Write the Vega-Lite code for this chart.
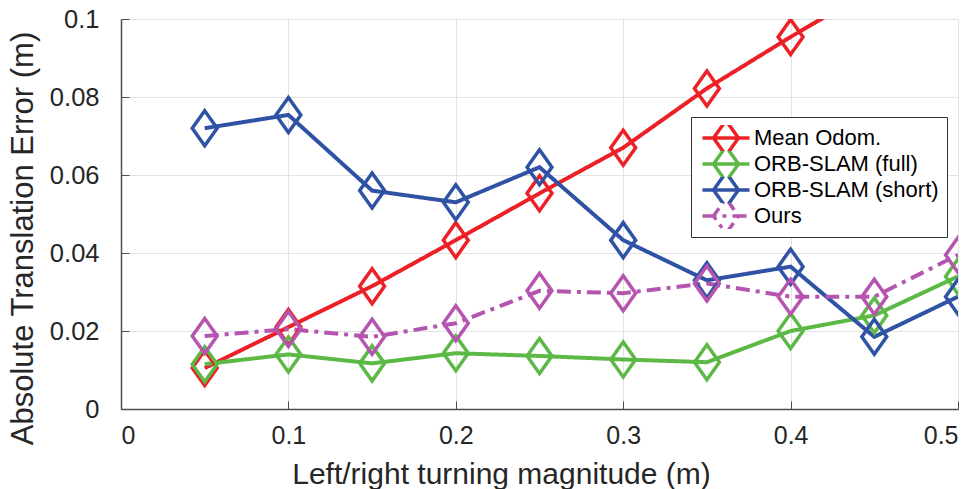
{
  "$schema": "https://vega.github.io/schema/vega-lite/v6.json",
  "width": 837,
  "height": 390,
  "autosize": {"type": "none"},
  "padding": {"left": 121, "top": 19, "right": 21, "bottom": 80},
  "background": "white",
  "config": {
    "view": {"stroke": null},
    "font": "Liberation Sans",
    "axis": {
      "labelFont": "Liberation Sans",
      "titleFont": "Liberation Sans",
      "labelColor": "#262626",
      "titleColor": "#262626",
      "titleFontWeight": "normal",
      "domainColor": "#4d4d4d",
      "domainWidth": 1.5,
      "tickColor": "#4d4d4d",
      "tickWidth": 1,
      "gridColor": "#e3e3e3",
      "gridWidth": 1
    }
  },
  "data": {
    "values": [
      {"series": "Mean Odom.", "x": 0.05, "y": 0.0105},
      {"series": "Mean Odom.", "x": 0.10, "y": 0.0210},
      {"series": "Mean Odom.", "x": 0.15, "y": 0.0315},
      {"series": "Mean Odom.", "x": 0.20, "y": 0.0433},
      {"series": "Mean Odom.", "x": 0.25, "y": 0.0553},
      {"series": "Mean Odom.", "x": 0.30, "y": 0.0670},
      {"series": "Mean Odom.", "x": 0.35, "y": 0.0822},
      {"series": "Mean Odom.", "x": 0.40, "y": 0.0954},
      {"series": "Mean Odom.", "x": 0.45, "y": 0.1080},
      {"series": "ORB-SLAM (full)", "x": 0.05, "y": 0.0115},
      {"series": "ORB-SLAM (full)", "x": 0.10, "y": 0.0140},
      {"series": "ORB-SLAM (full)", "x": 0.15, "y": 0.0117},
      {"series": "ORB-SLAM (full)", "x": 0.20, "y": 0.0143},
      {"series": "ORB-SLAM (full)", "x": 0.25, "y": 0.0136},
      {"series": "ORB-SLAM (full)", "x": 0.30, "y": 0.0127},
      {"series": "ORB-SLAM (full)", "x": 0.35, "y": 0.0120},
      {"series": "ORB-SLAM (full)", "x": 0.40, "y": 0.0200},
      {"series": "ORB-SLAM (full)", "x": 0.45, "y": 0.0240},
      {"series": "ORB-SLAM (full)", "x": 0.50, "y": 0.0340},
      {"series": "ORB-SLAM (short)", "x": 0.05, "y": 0.0720},
      {"series": "ORB-SLAM (short)", "x": 0.10, "y": 0.0754},
      {"series": "ORB-SLAM (short)", "x": 0.15, "y": 0.0560},
      {"series": "ORB-SLAM (short)", "x": 0.20, "y": 0.0530},
      {"series": "ORB-SLAM (short)", "x": 0.25, "y": 0.0620},
      {"series": "ORB-SLAM (short)", "x": 0.30, "y": 0.0433},
      {"series": "ORB-SLAM (short)", "x": 0.35, "y": 0.0330},
      {"series": "ORB-SLAM (short)", "x": 0.40, "y": 0.0365},
      {"series": "ORB-SLAM (short)", "x": 0.45, "y": 0.0185},
      {"series": "ORB-SLAM (short)", "x": 0.50, "y": 0.0288},
      {"series": "Ours", "x": 0.05, "y": 0.0187},
      {"series": "Ours", "x": 0.10, "y": 0.0205},
      {"series": "Ours", "x": 0.15, "y": 0.0185},
      {"series": "Ours", "x": 0.20, "y": 0.0220},
      {"series": "Ours", "x": 0.25, "y": 0.0303},
      {"series": "Ours", "x": 0.30, "y": 0.0297},
      {"series": "Ours", "x": 0.35, "y": 0.0322},
      {"series": "Ours", "x": 0.40, "y": 0.0288},
      {"series": "Ours", "x": 0.45, "y": 0.0288},
      {"series": "Ours", "x": 0.50, "y": 0.0395}
    ]
  },
  "encoding": {
    "x": {
      "field": "x", "type": "quantitative",
      "scale": {"domain": [0, 0.5], "nice": false, "zero": false},
      "axis": {
        "title": "Left/right turning magnitude (m)",
        "values": [0, 0.1, 0.2, 0.3, 0.4, 0.5],
        "format": "~g",
        "labelFontSize": 25,
        "labelPadding": 22,
        "tickSize": -8,
        "titleFontSize": 30,
        "titleX": 380,
        "titleY": 74,
        "titleBaseline": "alphabetic",
        "titleAnchor": "middle"
      }
    },
    "y": {
      "field": "y", "type": "quantitative",
      "scale": {"domain": [0, 0.1], "nice": false, "zero": false},
      "axis": {
        "title": "Absolute Translation Error (m)",
        "values": [0, 0.02, 0.04, 0.06, 0.08, 0.1],
        "format": "~g",
        "labelFontSize": 25.5,
        "labelPadding": 30,
        "tickSize": -8,
        "titleFontSize": 31,
        "titleX": -89,
        "titleY": 219,
        "titleBaseline": "alphabetic",
        "titleAngle": 270,
        "titleAnchor": "middle"
      }
    },
    "color": {
      "field": "series", "type": "nominal",
      "scale": {
        "domain": ["Mean Odom.", "ORB-SLAM (full)", "ORB-SLAM (short)", "Ours"],
        "range": ["#ec2127", "#5cb946", "#2f52a4", "#b555b0"]
      },
      "legend": {
        "title": null,
        "orient": "none",
        "legendX": 570,
        "legendY": 98,
        "padding": 8,
        "rowPadding": 0,
        "clipHeight": 26,
        "symbolOffset": 16,
        "labelOffset": 17,
        "labelLimit": 400,
        "symbolType": "M-2.94,0L2.94,0M0,-2.19L1.56,0L0,2.19L-1.56,0Z",
        "symbolSize": 256,
        "symbolStrokeWidth": 3.5,
        "symbolFillColor": "transparent",
        "labelFont": "Liberation Sans",
        "labelFontSize": 22,
        "labelColor": "#000000",
        "strokeColor": "#333333",
        "fillColor": "white"
      }
    }
  },
  "layer": [
    {
      "mark": {"type": "line", "strokeWidth": 4, "clip": true},
      "encoding": {
        "strokeDash": {
          "field": "series", "type": "nominal",
          "scale": {
            "domain": ["Mean Odom.", "ORB-SLAM (full)", "ORB-SLAM (short)", "Ours"],
            "range": [[1, 0], [1, 0], [1, 0], [14, 6, 4, 6]]
          },
          "legend": null
        }
      }
    },
    {
      "mark": {
        "type": "point",
        "shape": "M0,-1L0.71,0L0,1L-0.71,0Z",
        "size": 1225,
        "filled": false,
        "strokeWidth": 3.5,
        "opacity": 1,
        "clip": true
      }
    }
  ]
}
